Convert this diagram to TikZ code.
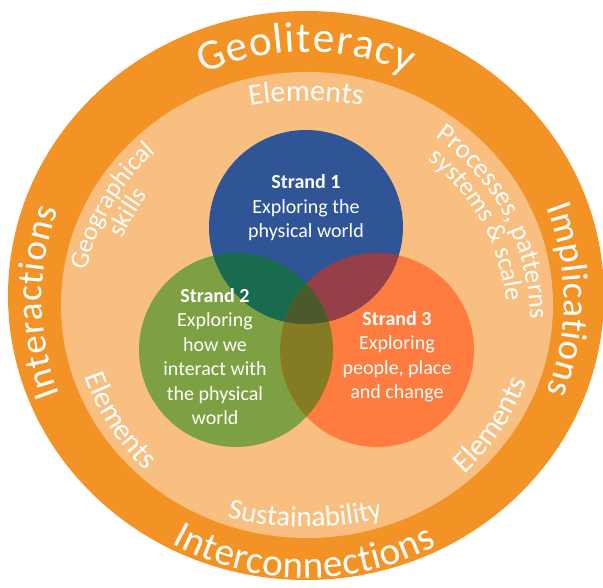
\documentclass[tikz,border=0pt]{standalone}
\usepackage{fontspec}
\setmainfont{Carlito}
\usetikzlibrary{decorations.text}
\definecolor{ringorange}{HTML}{F39325}
\definecolor{peach}{HTML}{F8BF80}
\definecolor{sblue}{HTML}{2F5597}
\definecolor{sgreen}{HTML}{7DA042}
\definecolor{sorange}{HTML}{FE7C3F}
\definecolor{ovbg}{HTML}{186B4F}
\definecolor{ovbo}{HTML}{954049}
\definecolor{ovgo}{HTML}{847B23}
\definecolor{ovall}{HTML}{4A5A2B}
\tikzset{stxt/.style={align=center, inner sep=0pt, text=white, font=\fontsize{20}{24.5}\selectfont}}
% #1 cx, #2 cy, #3 radius, #4 start angle, #5 end angle, #6 font size, #7 align, #8 text
\newcommand\arctxt[8]{%
  \path[decorate, decoration={text along path, text align=#7,
    text={|\fontsize{#6}{#6}\selectfont\color{white}|#8}}]
    ([shift={(#4:#3pt)}]#1,#2) arc[start angle=#4, end angle=#5, radius=#3pt];
}
\begin{document}
\begin{tikzpicture}[x=1pt,y=1pt]
\useasboundingbox (0,0) rectangle (603,588);
\clip (0,0) rectangle (603,588);
% rings
\fill[ringorange] (306,292.5) ellipse [x radius=298pt, y radius=284.5pt];
\fill[peach] (307,283) ellipse [x radius=246pt, y radius=233pt];
% Venn circles
\coordinate (cb) at (306,361);
\coordinate (cg) at (236,238);
\coordinate (co) at (377,238);
\fill[sgreen] (cg) circle[radius=97pt];
\fill[sorange] (co) circle[radius=97pt];
\fill[sblue] (cb) circle[radius=97pt];
\begin{scope}
  \clip (cb) circle[radius=97pt];
  \fill[ovbg] (cg) circle[radius=97pt];
  \fill[ovbo] (co) circle[radius=97pt];
\end{scope}
\begin{scope}
  \clip (cg) circle[radius=97pt];
  \fill[ovgo] (co) circle[radius=97pt];
  \clip (co) circle[radius=97pt];
  \fill[ovall] (cb) circle[radius=97pt];
\end{scope}
% strand texts
\node[stxt] (s1) at (306,380) {{\bfseries Strand 1}\\Exploring the\\physical world};
\node[stxt] (s2) at (215,231.5) {{\bfseries Strand 2}\\Exploring\\how we\\interact with\\the physical\\world};
\node[stxt] (s3) at (397,231.5) {{\bfseries Strand 3}\\Exploring\\people, place\\and change};
% outer ring texts
\arctxt{306}{288}{248}{114.5}{65.5}{43}{fit to path}{Geoliteracy}
\arctxt{306}{288}{278}{241}{298}{39}{fit to path}{Interconnections}
\arctxt{306}{288}{264}{201}{160}{37}{fit to path}{Interactions}
\arctxt{306}{288}{258}{21}{-21}{37}{fit to path}{Implications}
% inner ring texts
\arctxt{306}{157}{330}{102}{78}{30}{center}{Elements}
\arctxt{305}{386}{325}{250}{290}{29}{center}{Sustainability}
\arctxt{306}{268}{224}{65}{-10}{27}{center}{Processes, patterns}
\arctxt{306}{268}{201}{60}{-2}{26}{center}{systems {\&} scale}
\arctxt{306}{268}{225}{175}{124}{26}{center}{Geographical}
\arctxt{306}{268}{201}{175}{123}{26}{center}{skills}
\arctxt{306}{288}{234}{193}{233}{30}{center}{Elements}
\arctxt{306}{288}{235}{306}{346}{30}{center}{Elements}
\end{tikzpicture}
\end{document}
